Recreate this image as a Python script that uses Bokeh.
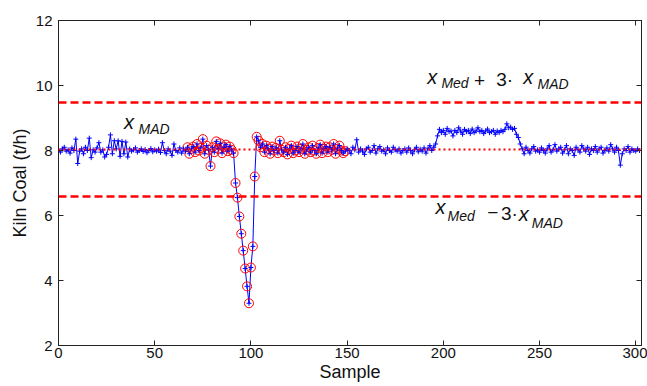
from bokeh.plotting import figure
from bokeh.models import Span, Label, LinearAxis, Range1d, FixedTicker
from bokeh.embed import file_html
from bokeh.resources import INLINE

# ---------------- data ----------------
kiln_coal = [
    8.0, 7.95, 8.05, 8.1, 7.98, 8.02, 7.92, 8.08, 8.0, 8.35,
    7.6, 7.98, 8.05, 7.9, 8.1, 8.0, 8.38, 7.78, 8.02, 7.95,
    8.08, 8.24, 7.95, 8.02, 7.8, 7.88, 8.1, 8.48, 7.9, 8.3,
    8.05, 8.3, 7.82, 8.28, 7.9, 8.26, 7.8, 8.05, 7.98, 8.02,
    8.08, 7.95, 8.0, 8.05, 7.97, 8.03, 7.93, 8.0, 8.06, 7.96,
    8.02, 7.98, 8.04, 7.94, 8.24, 8.0, 7.9, 8.05, 7.98, 7.85,
    8.2, 8.0, 7.95, 8.08, 7.92, 8.05, 7.98, 8.1, 7.9, 8.05,
    8.12, 7.95, 8.2, 8.0, 8.08, 8.35, 7.9, 8.15, 8.02, 7.52,
    8.1, 7.95, 8.28, 8.05, 8.22, 7.92, 8.1, 8.18, 7.98, 8.12,
    8.02, 7.92, 7.0, 6.55, 5.97, 5.44, 4.92, 4.37, 3.82, 3.3,
    4.4, 5.05, 7.2, 8.42, 8.3, 8.1, 8.2, 7.95, 8.15, 8.05,
    7.9, 8.12, 8.0, 8.08, 7.92, 8.3, 8.02, 7.95, 8.1, 7.88,
    8.05, 8.15, 7.92, 8.0, 8.12, 7.95, 8.05, 8.2, 7.9, 8.02,
    8.1, 7.95, 8.15, 8.0, 7.9, 8.08, 8.18, 7.92, 8.05, 8.12,
    7.95, 8.1, 8.02, 8.2, 7.9, 8.05, 8.15, 8.0, 7.92, 7.98,
    8.05, 8.0, 7.9, 8.1, 8.02, 8.33, 7.95, 8.05, 7.98, 7.88,
    8.05, 8.1, 7.95, 8.0, 8.15, 7.92, 8.05, 8.12, 7.98, 8.02,
    7.9, 8.08, 8.0, 7.95, 8.1, 8.02, 7.98, 8.05, 7.92, 8.0,
    8.05, 7.95, 8.08, 8.0, 7.9, 8.02, 8.1, 7.96, 8.04, 7.98,
    8.08, 7.92, 8.05, 8.15, 8.0, 8.1, 8.2, 8.45, 8.65, 8.55,
    8.62, 8.5, 8.68, 8.58, 8.6, 8.45, 8.62, 8.55, 8.7, 8.6,
    8.5, 8.65, 8.58, 8.62, 8.52, 8.66, 8.55, 8.6, 8.7, 8.58,
    8.62, 8.52, 8.6, 8.66, 8.55, 8.58, 8.62, 8.5, 8.6, 8.55,
    8.62, 8.58, 8.65, 8.82, 8.7, 8.72, 8.65, 8.68, 8.5, 8.4,
    8.2, 8.05, 7.9, 8.1, 8.0, 7.92, 8.05, 8.12, 7.98, 8.02,
    7.95, 8.08, 8.0, 7.92, 8.05, 8.15, 7.95, 8.02, 8.18, 7.98,
    8.05, 8.1, 7.92, 8.02, 8.15, 7.9, 8.05, 8.0, 7.85, 8.1,
    8.02, 7.95, 8.15, 8.05, 7.98, 8.1, 7.88, 8.05, 8.0, 8.12,
    7.95, 8.05, 8.1, 7.92, 8.0, 8.08, 7.98, 8.18, 8.05, 7.95,
    8.1, 8.0, 7.55, 7.9, 8.05, 8.0, 8.12, 7.95, 8.05, 8.0,
    7.98, 8.05, 8.0,
]
samples = list(range(len(kiln_coal)))

flagged_first = 67   # first sample circled red
flagged_last = 149   # last sample circled red

x_med = 8.03
x_mad = 0.483
upper_limit = x_med + 3 * x_mad
lower_limit = x_med - 3 * x_mad

x_ticks = [0, 50, 100, 150, 200, 250, 300]
y_ticks = [2, 4, 6, 8, 10, 12]
x_lim = (0, 303)
y_lim = (2, 12)

flag_x = [s for s in samples if flagged_first <= s <= flagged_last]
flag_y = [kiln_coal[s] for s in flag_x]

# ---------------- figure ----------------
FONT = "Liberation Sans"
p = figure(width=647, height=386, output_backend="svg", toolbar_location=None,
           x_range=Range1d(*x_lim), y_range=Range1d(*y_lim),
           x_axis_location=None, y_axis_location=None,
           min_border_left=58, min_border_right=6, min_border_top=20,
           min_border_bottom=41)
p.background_fill_color = "white"
p.border_fill_color = "white"
p.outline_line_color = "#222222"
p.outline_line_width = 1

bottom_ax = LinearAxis(ticker=FixedTicker(ticks=x_ticks), axis_label="Sample")
left_ax = LinearAxis(ticker=FixedTicker(ticks=y_ticks), axis_label="Kiln Coal (t/h)")
top_ax = LinearAxis(ticker=FixedTicker(ticks=x_ticks))
right_ax = LinearAxis(ticker=FixedTicker(ticks=y_ticks))

for ax in (bottom_ax, left_ax, top_ax, right_ax):
    ax.axis_line_color = "#222222"
    ax.major_tick_line_color = "#222222"
    ax.major_tick_in = 5
    ax.major_tick_out = 0
    ax.minor_tick_line_color = None

for ax in (top_ax, right_ax):
    ax.major_label_text_font_size = "0px"
    ax.major_label_text_color = None
    ax.major_label_standoff = 0

for ax in (bottom_ax, left_ax):
    ax.major_label_text_font = FONT
    ax.major_label_text_font_size = "15px"
    ax.major_label_text_color = "#111111"
    ax.axis_label_text_font = FONT
    ax.axis_label_text_font_style = "normal"
    ax.axis_label_text_font_size = "18px"
    ax.axis_label_text_color = "#111111"

bottom_ax.major_label_standoff = 2
bottom_ax.axis_label_standoff = 1
left_ax.major_label_standoff = 6
left_ax.axis_label_standoff = 3

p.add_layout(bottom_ax, "below")
p.add_layout(left_ax, "left")
p.add_layout(top_ax, "above")
p.add_layout(right_ax, "right")

for g in p.renderers + list(p.center):
    pass
p.xgrid.visible = False
p.ygrid.visible = False
for item in p.center:
    if type(item).__name__ == "Grid":
        item.visible = False

# ---------------- data marks ----------------
p.line(samples, kiln_coal, line_color="#0000FF", line_width=1)
p.scatter(flag_x, flag_y, marker="circle", size=9, fill_color=None,
          line_color="#FF0000", line_width=1)
p.scatter(samples, kiln_coal, marker="cross", size=5, line_color="#0000FF",
          line_width=1)

for loc, dash, w in ((upper_limit, "8 4", 2.5), (lower_limit, "8 4", 2.5),
                     (x_med, "2 3", 2)):
    p.add_layout(Span(location=loc, dimension="width", line_color="#FF0000",
                      line_width=w, line_dash=dash))

# ---------------- annotations ----------------
def lab(x, y, text, size):
    p.add_layout(Label(x=x, y=y, text=text, text_font=FONT,
                       text_font_size=size, text_font_style="italic",
                       text_baseline="middle", text_align="left",
                       text_color="#111111"))

def plain(x, y, text, size):
    p.add_layout(Label(x=x, y=y, text=text, text_font=FONT,
                       text_font_size=size, text_baseline="middle",
                       text_align="left", text_color="#111111"))

lab(34.0, 8.87, "x", "20px")
lab(41.6, 8.66, "MAD", "14px")

lab(191.6, 10.26, "x", "20px")
lab(199.0, 10.08, "Med", "14px")
plain(216.0, 10.15, "+", "19px")
plain(227.5, 10.18, "3·", "19px")
lab(241.5, 10.26, "x", "20px")
lab(249.0, 10.06, "MAD", "14px")

lab(196.0, 6.26, "x", "20px")
lab(202.2, 5.97, "Med", "14px")
plain(222.8, 6.08, "−", "19px")
plain(230.0, 6.06, "3·", "19px")
lab(239.2, 6.06, "x", "20px")
lab(246.0, 5.77, "MAD", "14px")

open("out.html", "w").write(file_html(p, INLINE))
